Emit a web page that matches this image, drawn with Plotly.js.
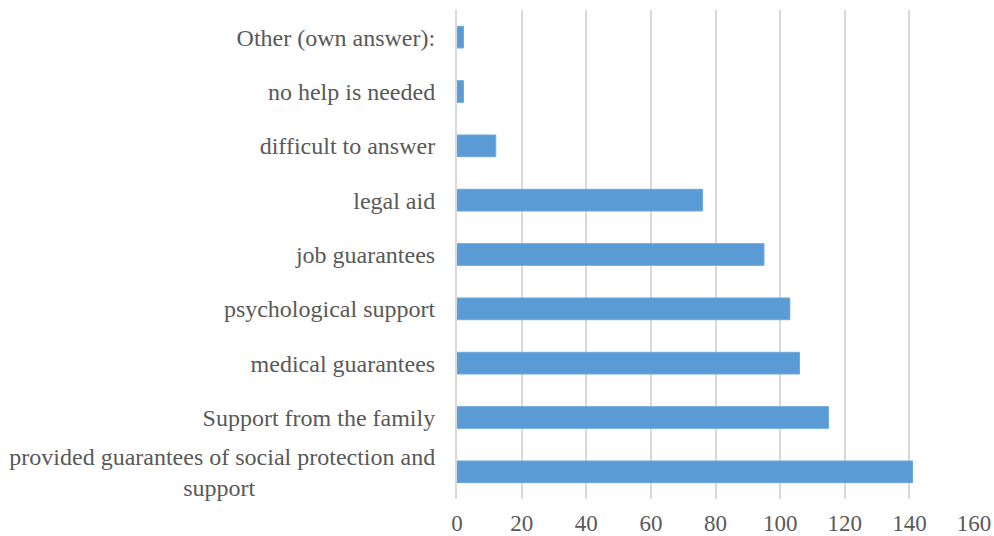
<!DOCTYPE html>
<html>
<head>
<meta charset="utf-8">
<script src="https://cdn.plot.ly/plotly-3.0.1.min.js"></script>
<style>html,body{margin:0;padding:0;background:#fff;}#chart{width:994px;height:536px;}</style>
</head>
<body>
<div id="chart"></div>
<script>
const categories = [
  "provided guarantees of social protection and",
  "Support from the family",
  "medical guarantees",
  "psychological support",
  "job guarantees",
  "legal aid",
  "difficult to answer",
  "no help is needed",
  "Other (own answer):"
];
const secondLines = ["support", "", "", "", "", "", "", "", ""];
const values = [141, 115, 106, 103, 95, 76, 12, 2, 2];
const xTicks = [0, 20, 40, 60, 80, 100, 120, 140, 160];

const pad = '\u00a0'.repeat(30);
const labels = categories.map((c, i) => secondLines[i] ? c + '<br>' + secondLines[i] + pad : c);

const trace = {
  type: 'bar',
  orientation: 'h',
  y: categories,
  x: values,
  width: 0.4,
  marker: {color: '#5b9bd5', line: {color: '#6fa8dc', width: 1}},
  hoverinfo: 'x+y'
};

const layout = {
  width: 994,
  height: 536,
  margin: {l: 457, r: 20, t: 10, b: 37},
  paper_bgcolor: '#ffffff',
  plot_bgcolor: '#ffffff',
  showlegend: false,
  font: {family: '"Liberation Serif", "Times New Roman", serif', size: 23.5, color: '#595959'},
  xaxis: {
    range: [0, 160],
    tickvals: xTicks,
    ticktext: xTicks.map(String),
    tickfont: {size: 23},
    showgrid: true,
    gridcolor: '#d9d9d9',
    gridwidth: 2,
    zeroline: false,
    showline: false,
    ticks: 'outside',
    ticklen: 3,
    tickcolor: 'rgba(0,0,0,0)',
    fixedrange: true
  },
  yaxis: {
    type: 'category',
    categoryorder: 'array',
    categoryarray: categories,
    tickvals: categories,
    ticktext: labels,
    tickfont: {size: 24},
    range: [-0.5, categories.length - 0.5],
    showgrid: false,
    zeroline: false,
    showline: true,
    linecolor: '#d9d9d9',
    linewidth: 2,
    ticks: 'outside',
    ticklen: 15,
    tickcolor: 'rgba(0,0,0,0)',
    fixedrange: true
  }
};

Plotly.newPlot('chart', [trace], layout, {displayModeBar: false, staticPlot: true});
</script>
</body>
</html>
